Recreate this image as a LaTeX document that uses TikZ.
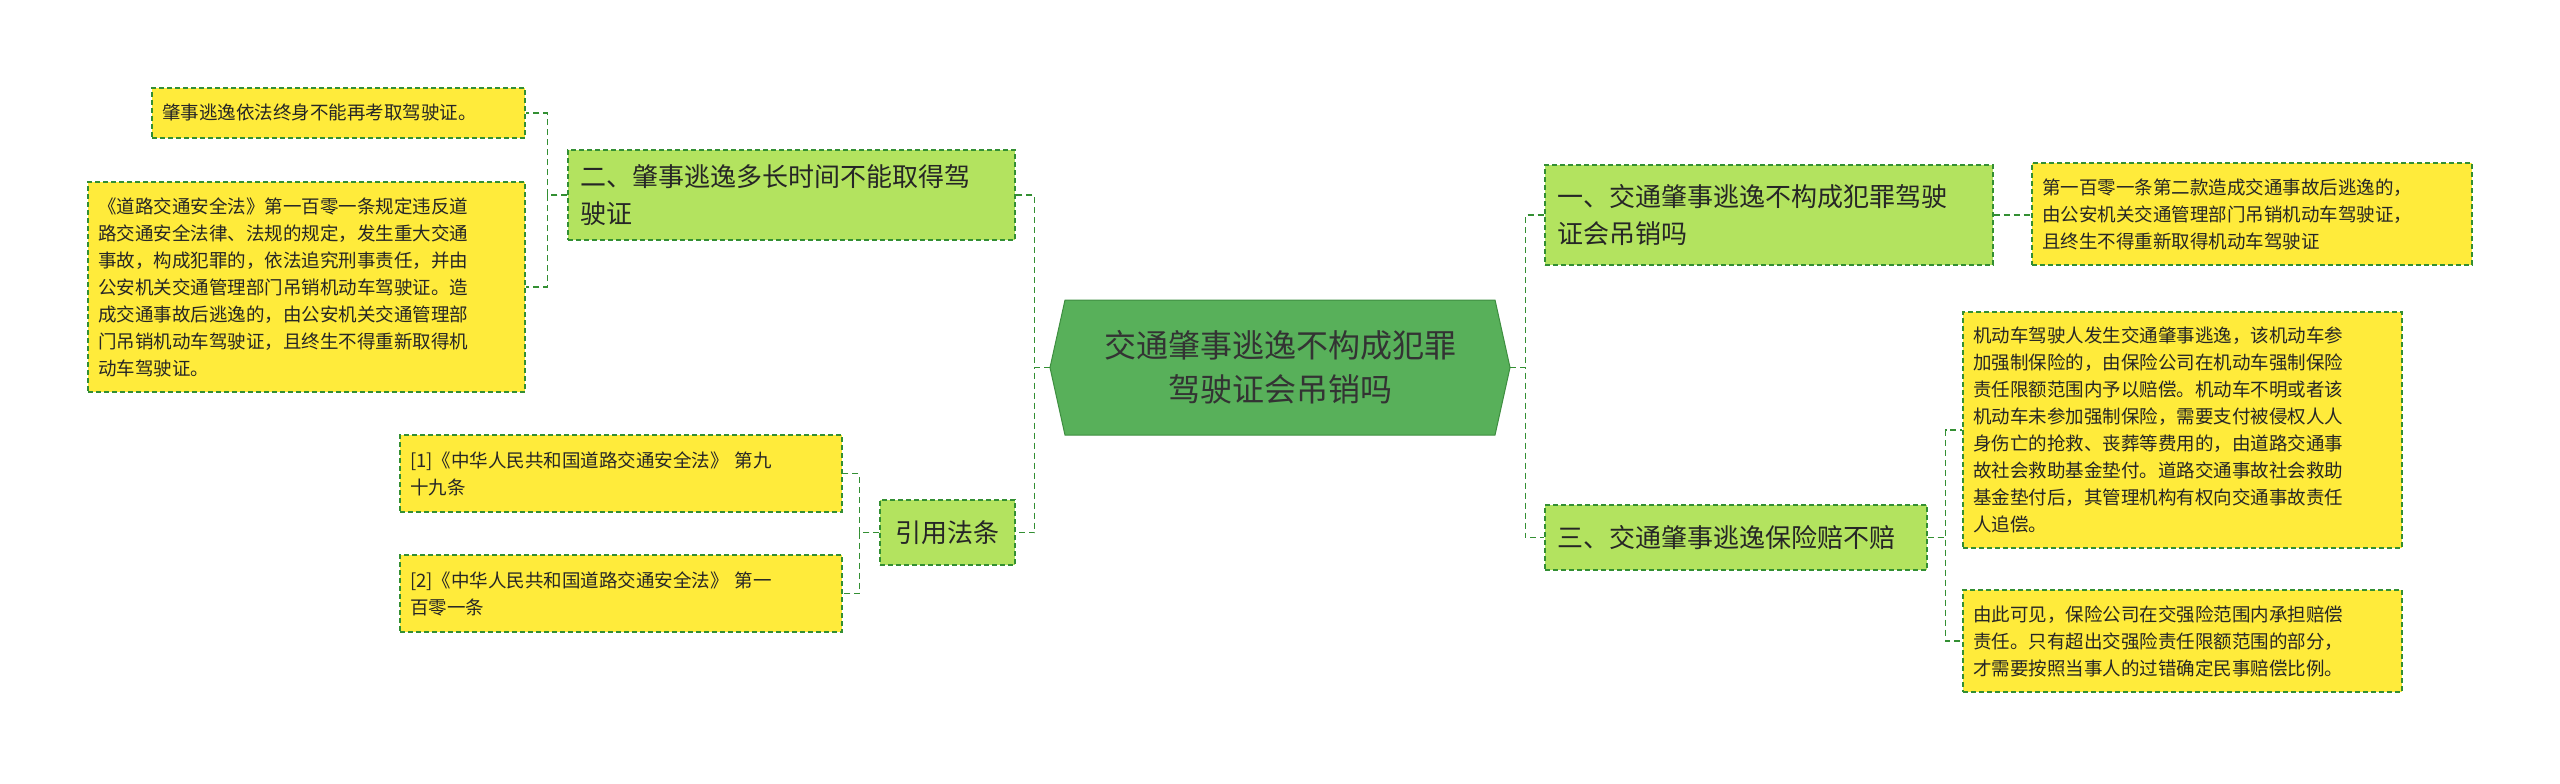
\documentclass[tikz,border=0pt]{standalone}
\usepackage{fontspec}
\setmainfont{Noto Sans CJK SC}
\begin{document}
\begin{tikzpicture}[x=1pt,y=-1pt,
  bd/.style={draw=green!45!black!80, dashed, dash pattern=on 5pt off 3pt, line width=1.3pt},
  leaf/.style={bd, fill=leafy, inner xsep=10pt, inner ysep=0pt, align=left, text=black!85, font=\fontsize{18.5}{27}\selectfont},
  branch/.style={bd, fill=brg, inner xsep=12pt, inner ysep=0pt, align=left, text=black!85, font=\fontsize{26}{37}\selectfont},
  conn/.style={draw=green!45!black!80, dashed, dash pattern=on 6pt off 4pt, line width=1.3pt}]
\definecolor{leafy}{HTML}{FFEB3B}
\definecolor{brg}{HTML}{B3E35F}
\definecolor{cg}{HTML}{58B05A}
\definecolor{cgd}{HTML}{3E8E40}
\useasboundingbox (0,0) rectangle (2560,784);
\fill[white] (0,0) rectangle (2560,784);
% center
\filldraw[fill=cg, draw=cgd, line width=1pt] (1050,367.5) -- (1065,300) -- (1495,300) -- (1510,367.5) -- (1495,435) -- (1065,435) -- cycle;
\node[minimum width=460pt, minimum height=135pt, inner sep=0pt, align=center, text=black!80, font=\fontsize{32}{44}\selectfont] (c) at (1280,367.5) {交通肇事逃逸不构成犯罪\\驾驶证会吊销吗};
% left
\node[branch, minimum height=90pt, text width=423pt] (b2) at (791.5,195) {二、肇事逃逸多长时间不能取得驾\\驶证};
\node[leaf, minimum height=50pt, text width=353pt] (l1) at (338.5,113) {肇事逃逸依法终身不能再考取驾驶证。};
\node[leaf, minimum height=210pt, text width=417pt] (l2) at (306.5,287) {《道路交通安全法》第一百零一条规定违反道\\路交通安全法律、法规的规定，发生重大交通\\事故，构成犯罪的，依法追究刑事责任，并由\\公安机关交通管理部门吊销机动车驾驶证。造\\成交通事故后逃逸的，由公安机关交通管理部\\门吊销机动车驾驶证，且终生不得重新取得机\\动车驾驶证。};
\node[branch, minimum height=65pt, text width=111pt, align=center] (b4) at (947.5,532.5) {引用法条};
\node[leaf, minimum height=77pt, text width=422pt] (l3) at (621,473.5) {[1]《中华人民共和国道路交通安全法》 第九\\十九条};
\node[leaf, minimum height=77pt, text width=422pt] (l4) at (621,593.5) {[2]《中华人民共和国道路交通安全法》 第一\\百零一条};
% right
\node[branch, minimum height=100pt, text width=424pt] (b1) at (1769,215) {一、交通肇事逃逸不构成犯罪驾驶\\证会吊销吗};
\node[leaf, minimum height=102pt, text width=420pt] (r1) at (2252,214) {第一百零一条第二款造成交通事故后逃逸的，\\由公安机关交通管理部门吊销机动车驾驶证，\\且终生不得重新取得机动车驾驶证};
\node[branch, minimum height=65pt, text width=358pt] (b3) at (1736,537.5) {三、交通肇事逃逸保险赔不赔};
\node[leaf, minimum height=236pt, text width=419pt] (r2) at (2182.5,430) {机动车驾驶人发生交通肇事逃逸，该机动车参\\加强制保险的，由保险公司在机动车强制保险\\责任限额范围内予以赔偿。机动车不明或者该\\机动车未参加强制保险，需要支付被侵权人人\\身伤亡的抢救、丧葬等费用的，由道路交通事\\故社会救助基金垫付。道路交通事故社会救助\\基金垫付后，其管理机构有权向交通事故责任\\人追偿。};
\node[leaf, minimum height=102pt, text width=419pt] (r3) at (2182.5,641) {由此可见，保险公司在交强险范围内承担赔偿\\责任。只有超出交强险责任限额范围的部分，\\才需要按照当事人的过错确定民事赔偿比例。};
% connectors
\draw[conn] (c.west) -- ++(-15,0) |- (b2.east);
\draw[conn] (c.west) -- ++(-15,0) |- (b4.east);
\draw[conn] (b2.west) -- ++(-20,0) |- (l1.east);
\draw[conn] (b2.west) -- ++(-20,0) |- (l2.east);
\draw[conn] (b4.west) -- ++(-20,0) |- (l3.east);
\draw[conn] (b4.west) -- ++(-20,0) |- (l4.east);
\draw[conn] (c.east) -- ++(15,0) |- (b1.west);
\draw[conn] (c.east) -- ++(15,0) |- (b3.west);
\draw[conn] (b1.east) -- (r1.west |- b1.east);
\draw[conn] (b3.east) -- ++(18,0) |- (r2.west);
\draw[conn] (b3.east) -- ++(18,0) |- (r3.west);
\end{tikzpicture}
\end{document}
